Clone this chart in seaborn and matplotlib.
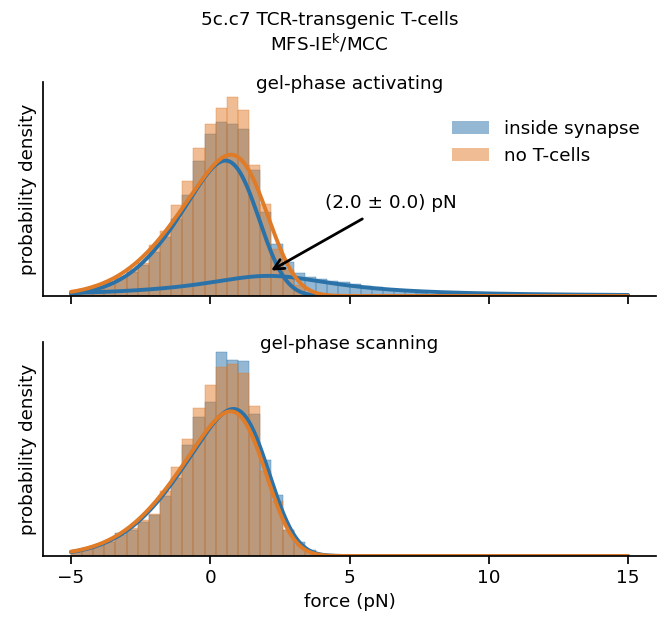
import math
import numpy as np
import pandas as pd
import matplotlib
matplotlib.use("Agg")
import matplotlib.pyplot as plt
from matplotlib.patches import Patch
import seaborn as sns

# ---------------- data ----------------
bin_start, bin_end, bin_width = -5.0, 15.0, 0.4   # histogram bins
x_ticks = [-5, 0, 5, 10, 15]

series_names = ["inside synapse", "no T-cells"]
panel_titles = ["gel-phase activating", "gel-phase scanning"]

# probability densities per bin, first bin starts at -5 pN
act_synapse = [0.0046, 0.0092, 0.0154, 0.0215, 0.0277, 0.0369, 0.0472, 0.0677,
               0.0897, 0.1180, 0.1549, 0.2072, 0.2482, 0.2657, 0.2626, 0.2549,
               0.1934, 0.1292, 0.0800, 0.0523, 0.0354, 0.0292, 0.0262, 0.0231,
               0.0208, 0.0177, 0.0154, 0.0134, 0.0112, 0.0097, 0.0072, 0.0051,
               0.0038, 0.0028, 0.0020, 0.0015, 0.0011, 0.0008]
act_none = [0.0062, 0.0112, 0.0174, 0.0231, 0.0303, 0.0411, 0.0512, 0.0780,
            0.0995, 0.1395, 0.1765, 0.2257, 0.2635, 0.2872, 0.3042, 0.2842,
            0.2011, 0.1400, 0.0723, 0.0400, 0.0169, 0.0046, 0.0015, 0.0008]
scan_synapse = [0.0054, 0.0108, 0.0154, 0.0215, 0.0349, 0.0395, 0.0523, 0.0626,
                0.0918, 0.1189, 0.1703, 0.2134, 0.2349, 0.3118, 0.2995, 0.2980,
                0.2180, 0.1472, 0.0934, 0.0395, 0.0215, 0.0088, 0.0035, 0.0011,
                0.0005]
scan_none = [0.0062, 0.0123, 0.0169, 0.0226, 0.0318, 0.0435, 0.0549, 0.0646,
             0.0995, 0.1358, 0.1795, 0.2257, 0.2611, 0.2892, 0.2934, 0.2795,
             0.2288, 0.1303, 0.0846, 0.0395, 0.0165, 0.0051, 0.0020, 0.0005]

# fitted model parameters: skew-normal (loc, scale, skewness, weight)
act_synapse_fit_main = [1.665, 2.275, -2.7, 0.734]
act_none_fit = [1.98, 2.55, -2.8, 0.851]
scan_synapse_fit = [2.04, 2.55, -3.0, 0.872]
scan_none_fit = [1.94, 2.55, -3.0, 0.858]
# broad (Lorentzian) component inside synapse, activating: (loc, width, weight)
act_synapse_fit_broad = [2.1, 3.0, 0.29]

peak_value, peak_error = 2.0, 0.0

# ---------------- helpers ----------------
_erf = np.vectorize(math.erf)


def skewnorm_pdf(x, loc, scale, shape, weight):
    z = (x - loc) / scale
    phi = np.exp(-0.5 * z ** 2) / math.sqrt(2 * math.pi)
    Phi = 0.5 * (1 + _erf(shape * z / math.sqrt(2)))
    return weight * 2.0 / scale * phi * Phi


def lorentz_pdf(x, loc, width, weight):
    return weight / (math.pi * width * (1 + ((x - loc) / width) ** 2))


# ---------------- style ----------------
sns.set_theme(style="ticks", context="notebook", font_scale=1.2)
plt.rcParams["font.family"] = ["DejaVu Sans"]
for key in ["text.color", "axes.labelcolor", "axes.edgecolor",
            "xtick.color", "ytick.color"]:
    plt.rcParams[key] = "black"
FS = 13.2

c_blue = "#2a72a8"
c_orange = "#e07b28"

fig, axes = plt.subplots(2, 1, sharex=True, sharey=True, figsize=(6.59, 6.22), dpi=100)
fig.subplots_adjust(left=0.0653, right=0.9954, top=0.8682, bottom=0.1061, hspace=0.215)

grid = np.linspace(-5, 15, 1201)


def draw_hist(ax, values, color):
    vals = list(values)
    centers = [bin_start + bin_width * (i + 0.5) for i in range(len(vals))]
    df = pd.DataFrame({"force": centers, "density": vals})
    sns.histplot(data=df, x="force", weights="density", binwidth=bin_width,
                 binrange=(bin_start, bin_end), stat="count", ax=ax,
                 color=color, alpha=0.5, edgecolor=color, linewidth=0.25)


panels = [
    (act_synapse, act_none, [act_synapse_fit_main], act_none_fit),
    (scan_synapse, scan_none, [scan_synapse_fit], scan_none_fit),
]

for ax, title, (syn, none, syn_fits, none_fit) in zip(axes, panel_titles, panels):
    draw_hist(ax, syn, c_blue)
    draw_hist(ax, none, c_orange)
    for p in syn_fits:
        sns.lineplot(x=grid, y=skewnorm_pdf(grid, *p), ax=ax, color=c_blue, lw=2.8)
    if ax is axes[0]:
        sns.lineplot(x=grid, y=lorentz_pdf(grid, *act_synapse_fit_broad), ax=ax,
                     color=c_blue, lw=2.8)
    sns.lineplot(x=grid, y=skewnorm_pdf(grid, *none_fit), ax=ax, color=c_orange, lw=2.8)
    ax.set_title(title, y=0.967, pad=0, fontsize=FS)
    ax.set_ylabel("probability density", fontsize=FS)
    ax.set_xlabel("")

axes[0].set_yticks([])
axes[0].set_xlim(-6, 16)
axes[0].set_xticks(x_ticks)
axes[1].tick_params(axis="x", labelsize=FS)
axes[1].set_xlabel("force (pN)", fontsize=FS)

# annotation of the broad component peak
peak_y = lorentz_pdf(np.array([act_synapse_fit_broad[0]]), *act_synapse_fit_broad)[0]
axes[0].annotate(f"({peak_value:.1f} ± {peak_error:.1f}) pN",
                 xy=(act_synapse_fit_broad[0], peak_y * 1.2),
                 xytext=(6.5, 0.143), ha="center", va="center", fontsize=FS,
                 arrowprops=dict(arrowstyle="->", color="black", lw=2,
                                 mutation_scale=18, shrinkA=6))

handles = [Patch(facecolor=c_blue, alpha=0.5, edgecolor="none"),
           Patch(facecolor=c_orange, alpha=0.5, edgecolor="none")]
axes[0].legend(handles, series_names, loc="upper right", bbox_to_anchor=(1.0, 0.9),
               frameon=False, fontsize=FS)

sns.despine(fig=fig)
fig.suptitle("5c.c7 TCR-transgenic T-cells\nMFS-IE$^{\\mathregular{k}}$/MCC",
             y=0.983, va="top", fontsize=FS)

fig.savefig("out.png", dpi=100)
